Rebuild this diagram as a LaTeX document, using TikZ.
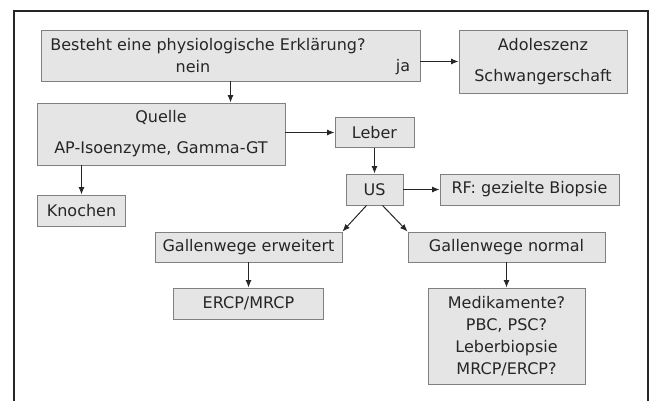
\documentclass[tikz,border=0pt]{standalone}
\usepackage{fontspec}
\setmainfont{DejaVu Sans}
\usepackage{xcolor}
\usepackage{tikz}
\usetikzlibrary{positioning,arrows.meta}
\definecolor{boxfill}{gray}{0.90}
\definecolor{boxline}{gray}{0.50}
\definecolor{inktext}{gray}{0.15}

\begin{document}
\begin{tikzpicture}[
    x=1pt, y=-1pt,
    font=\fontsize{16}{18}\selectfont,
    box/.style={draw=boxline, fill=boxfill, text=inktext, align=center, inner sep=0pt, line width=0.9pt},
    arrow/.style={-{Latex[length=7.5pt,width=6pt]}, line width=1pt, draw=inktext},
  ]
    \useasboundingbox (0,0) rectangle (653,401);
    \draw[line width=1.3pt, draw=inktext] (14,401) -- (14,11) -- (648,11) -- (648,401);

    % first question
    \node[box, minimum width=379pt, minimum height=51pt] (frage) at (230.5,55.5) {};
    \node[text=inktext, inner sep=0pt] (frageText) at (208,46) {Besteht eine physiologische Erklärung?};
    \node[text=inktext, inner sep=0pt] (nein) at (193,67) {nein};
    \node[text=inktext, inner sep=0pt] (ja) at (403,67) {ja};
    \node[box, minimum width=168pt, minimum height=63pt, font=\fontsize{16}{31}\selectfont] (adol) at (543,61.5) {Adoleszenz\\Schwangerschaft};

    % source
    \node[box, minimum width=248pt, minimum height=62pt, font=\fontsize{16}{31}\selectfont] (quelle) at (161,134) {Quelle\\AP-Isoenzyme, Gamma-GT};
    \node[box, minimum width=79pt, minimum height=30pt] (leber) at (374.5,132.5) {Leber};
    \node[box, minimum width=88pt, minimum height=31pt] (knochen) at (81.5,210.5) {Knochen};

    % ultrasound
    \node[box, minimum width=57pt, minimum height=31pt] (us) at (374.5,189.5) {US};
    \node[box, minimum width=179pt, minimum height=31pt] (rf) at (529.5,189.5) {RF: gezielte Biopsie};
    \node[box, minimum width=187pt, minimum height=30pt] (gerw) at (248.5,247) {Gallenwege erweitert};
    \node[box, minimum width=197pt, minimum height=30pt] (gnorm) at (506.5,247) {Gallenwege normal};
    \node[box, minimum width=150pt, minimum height=31pt] (ercp) at (248.5,303.5) {ERCP/MRCP};
    \node[box, minimum width=157pt, minimum height=96pt, font=\fontsize{16}{22}\selectfont] (medi) at (506.5,336) {Medikamente?\\PBC, PSC?\\Leberbiopsie\\MRCP/ERCP?};

    \draw[arrow] (frage.south) -- (frage.south |- quelle.north);
    \draw[arrow] (frage.east |- adol) -- (adol.west);
    \draw[arrow] (quelle.east |- leber) -- (leber.west);
    \draw[arrow] (quelle.south -| knochen) -- (knochen.north);
    \draw[arrow] (leber) -- (us);
    \draw[arrow] (us) -- (rf);
    \draw[arrow] ([xshift=-8pt]us.south) -- (gerw.north east);
    \draw[arrow] ([xshift=8pt]us.south) -- (gnorm.north west);
    \draw[arrow] (gerw) -- (ercp);
    \draw[arrow] (gnorm) -- (medi);
  \end{tikzpicture}
\end{document}
